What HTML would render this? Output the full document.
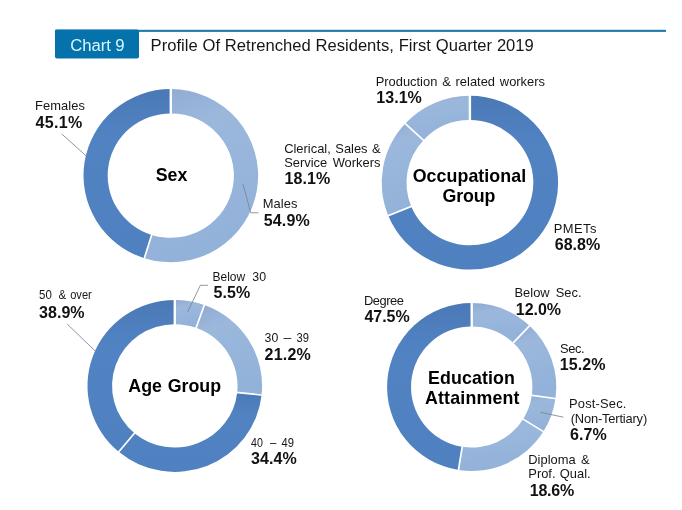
<!DOCTYPE html>
<html><head><meta charset="utf-8"><title>Chart 9</title>
<style>
html,body{margin:0;padding:0;background:#fff;}
body{width:682px;height:510px;overflow:hidden;}
svg{display:block;font-family:"Liberation Sans",Arial,sans-serif;}
text{white-space:pre;}
.n{font-size:12.9px;fill:#161616;}
.b{font-size:16.0px;font-weight:bold;fill:#111;}
.c{font-size:17.8px;font-weight:bold;fill:#000;}
.t{font-size:16.6px;fill:#161616;}
.h{font-size:16.7px;fill:#d9f8ff;}
</style></head><body>
<svg width="682" height="510" viewBox="0 0 682 510">
<defs>
<linearGradient id="gd" x1="0" y1="0" x2="0" y2="1"><stop offset="0" stop-color="#4b79b6"/><stop offset="0.3" stop-color="#5183c3"/><stop offset="1" stop-color="#4f81c1"/></linearGradient>
<linearGradient id="gl" x1="0" y1="0" x2="0.25" y2="1"><stop offset="0" stop-color="#90a9d0"/><stop offset="0.28" stop-color="#9bb7dc"/><stop offset="1" stop-color="#93b2d9"/></linearGradient>
</defs>
<rect width="682" height="510" fill="#fff"/>
<rect x="55" y="29.8" width="611" height="2.1" fill="#1f7ba8"/>
<rect x="55" y="29.5" width="84" height="29" rx="2" fill="#0672ab"/>
<path d="M170.80 89.00A87.3 86.6 0 1 1 144.35 258.13L151.68 234.88A63.1 62.2 0 1 0 170.80 113.40Z" fill="url(#gl)"/>
<path d="M144.35 258.13A87.3 86.6 0 0 1 170.80 89.00L170.80 113.40A63.1 62.2 0 0 0 151.68 234.88Z" fill="url(#gd)"/>
<line x1="170.80" y1="114.90" x2="170.80" y2="87.50" stroke="#fff" stroke-width="2.4"/>
<line x1="152.13" y1="233.45" x2="143.89" y2="259.56" stroke="#fff" stroke-width="1.7"/>
<path d="M469.90 95.80A88.2 86.9 0 1 1 388.31 215.70L411.25 206.47A63.4 62.6 0 1 0 469.90 120.10Z" fill="url(#gd)"/>
<path d="M388.31 215.70A88.2 86.9 0 0 1 405.23 123.61L423.41 140.13A63.4 62.6 0 0 0 411.25 206.47Z" fill="url(#gl)"/>
<path d="M405.23 123.61A88.2 86.9 0 0 1 469.90 95.80L469.90 120.10A63.4 62.6 0 0 0 423.41 140.13Z" fill="url(#gl)"/>
<line x1="469.90" y1="121.60" x2="469.90" y2="94.30" stroke="#fff" stroke-width="2.4"/>
<line x1="412.64" y1="205.90" x2="386.92" y2="216.27" stroke="#fff" stroke-width="1.7"/>
<line x1="424.51" y1="141.15" x2="404.13" y2="122.59" stroke="#fff" stroke-width="1.7"/>
<path d="M174.80 299.90A87.3 86.0 0 0 1 204.37 304.98L196.06 327.85A62.75 61.7 0 0 0 174.80 324.20Z" fill="url(#gl)"/>
<path d="M204.37 304.98A87.3 86.0 0 0 1 261.60 395.07L237.19 392.48A62.75 61.7 0 0 0 196.06 327.85Z" fill="url(#gl)"/>
<path d="M261.60 395.07A87.3 86.0 0 0 1 118.73 451.82L134.50 433.19A62.75 61.7 0 0 0 237.19 392.48Z" fill="url(#gd)"/>
<path d="M118.73 451.82A87.3 86.0 0 0 1 174.80 299.90L174.80 324.20A62.75 61.7 0 0 0 134.50 433.19Z" fill="url(#gd)"/>
<line x1="174.80" y1="325.70" x2="174.80" y2="298.40" stroke="#fff" stroke-width="2.4"/>
<line x1="195.55" y1="329.26" x2="204.88" y2="303.57" stroke="#fff" stroke-width="1.7"/>
<line x1="235.70" y1="392.32" x2="263.09" y2="395.23" stroke="#fff" stroke-width="1.7"/>
<line x1="135.46" y1="432.04" x2="117.77" y2="452.97" stroke="#fff" stroke-width="1.7"/>
<path d="M471.70 303.00A84.6 84.0 0 0 1 529.61 325.77L513.25 342.82A60.7 60.6 0 0 0 471.70 326.40Z" fill="url(#gl)"/>
<path d="M529.61 325.77A84.6 84.0 0 0 1 555.49 398.57L531.82 395.35A60.7 60.6 0 0 0 513.25 342.82Z" fill="url(#gl)"/>
<path d="M555.49 398.57A84.6 84.0 0 0 1 543.41 431.56L523.15 419.15A60.7 60.6 0 0 0 531.82 395.35Z" fill="url(#gl)"/>
<path d="M543.41 431.56A84.6 84.0 0 0 1 458.47 469.97L462.20 446.85A60.7 60.6 0 0 0 523.15 419.15Z" fill="url(#gl)"/>
<path d="M458.47 469.97A84.6 84.0 0 0 1 471.70 303.00L471.70 326.40A60.7 60.6 0 0 0 462.20 446.85Z" fill="url(#gd)"/>
<line x1="471.70" y1="327.90" x2="471.70" y2="301.50" stroke="#fff" stroke-width="2.4"/>
<line x1="512.23" y1="343.92" x2="530.64" y2="324.67" stroke="#fff" stroke-width="1.7"/>
<line x1="530.34" y1="395.14" x2="556.98" y2="398.78" stroke="#fff" stroke-width="1.7"/>
<line x1="521.88" y1="418.35" x2="544.69" y2="432.36" stroke="#fff" stroke-width="1.7"/>
<line x1="462.44" y1="445.37" x2="458.23" y2="471.45" stroke="#fff" stroke-width="1.7"/>
<polyline points="61.8,134 86.3,156" fill="none" stroke="#7d848e" stroke-width="0.85"/>
<polyline points="243,184 250.8,212.8 258.5,212.8" fill="none" stroke="#7d848e" stroke-width="0.85"/>
<polyline points="208,285.3 200.3,285.3 187.6,312" fill="none" stroke="#7d848e" stroke-width="0.85"/>
<polyline points="67.2,324 95,350.8" fill="none" stroke="#7d848e" stroke-width="0.85"/>
<polyline points="540.6,412.4 563.5,417.2" fill="none" stroke="#7d848e" stroke-width="0.85"/>
<text x="70.20" y="50.9" class="h" style="word-spacing:-0.34px;">Chart 9</text>
<text x="150.60" y="50.5" class="t" style="word-spacing:0.23px;">Profile Of Retrenched Residents, First Quarter 2019</text>
<text x="35.00" y="109.6" class="n" style="letter-spacing:0.103px;">Females</text>
<text x="262.80" y="208.2" class="n" style="letter-spacing:0.040px;">Males</text>
<text x="284.20" y="152.5" class="n" style="word-spacing:0.97px;">Clerical, Sales &amp;</text>
<text x="284.20" y="167.3" class="n" style="word-spacing:1.93px;">Service Workers</text>
<text x="375.70" y="85.5" class="n" style="word-spacing:1.25px;">Production &amp; related workers</text>
<text x="553.70" y="232.9" class="n" style="letter-spacing:0.480px;">PMETs</text>
<text x="364.00" y="304.6" class="n" style="letter-spacing:-0.482px;">Degree</text>
<text x="514.50" y="296.6" class="n" style="word-spacing:2.50px;">Below Sec.</text>
<text x="560.00" y="352.7" class="n" style="letter-spacing:-0.371px;">Sec.</text>
<text x="569.00" y="407.6" class="n" style="letter-spacing:0.188px;">Post-Sec.</text>
<text x="570.70" y="422.5" class="n" style="letter-spacing:-0.176px;">(Non-Tertiary)</text>
<text x="528.30" y="464.1" class="n" style="word-spacing:1.84px;">Diploma &amp;</text>
<text x="528.30" y="478.2" class="n" style="word-spacing:0.67px;">Prof. Qual.</text>
<text x="35.60" y="127.5" class="b" style="letter-spacing:0.315px;">45.1%</text>
<text x="263.80" y="225.9" class="b" style="letter-spacing:0.115px;">54.9%</text>
<text x="284.60" y="184.2" class="b" style="letter-spacing:0.065px;">18.1%</text>
<text x="376.30" y="102.5" class="b" style="letter-spacing:0.040px;">13.1%</text>
<text x="554.70" y="250.1" class="b" style="letter-spacing:0.040px;">68.8%</text>
<text x="39.10" y="317.5" class="b" style="letter-spacing:0.015px;">38.9%</text>
<text x="213.40" y="298.4" class="b" style="letter-spacing:0.153px;">5.5%</text>
<text x="264.60" y="359.7" class="b" style="letter-spacing:0.190px;">21.2%</text>
<text x="251.10" y="464.0" class="b" style="letter-spacing:0.065px;">34.4%</text>
<text x="364.40" y="322.2" class="b" style="letter-spacing:-0.010px;">47.5%</text>
<text x="515.80" y="314.9" class="b" style="letter-spacing:-0.035px;">12.0%</text>
<text x="559.80" y="370.3" class="b" style="letter-spacing:0.090px;">15.2%</text>
<text x="570.00" y="440.1" class="b" style="letter-spacing:0.086px;">6.7%</text>
<text x="529.70" y="495.9" class="b" style="letter-spacing:-0.210px;">18.6%</text>
<text x="155.80" y="180.6" class="c" style="letter-spacing:-0.075px;">Sex</text>
<text x="412.70" y="181.6" class="c" style="letter-spacing:0.073px;">Occupational</text>
<text x="442.50" y="201.7" class="c" style="letter-spacing:-0.118px;">Group</text>
<text x="128.30" y="392.4" class="c" style="word-spacing:0.89px;">Age Group</text>
<text x="428.10" y="383.6" class="c" style="letter-spacing:0.089px;">Education</text>
<text x="424.90" y="404.2" class="c" style="letter-spacing:0.196px;">Attainment</text>
<text y="299.4" class="n"><tspan x="39.10" textLength="12.75" lengthAdjust="spacingAndGlyphs">50</tspan> <tspan x="58.40" textLength="7.64" lengthAdjust="spacingAndGlyphs">&amp;</tspan> <tspan x="70.20" textLength="21.59" lengthAdjust="spacingAndGlyphs">over</tspan></text>
<text y="280.5" class="n"><tspan x="212.47" textLength="32.69" lengthAdjust="spacingAndGlyphs">Below</tspan> <tspan x="252.30" textLength="13.76" lengthAdjust="spacingAndGlyphs">30</tspan></text>
<text y="341.5" class="n"><tspan x="264.60" textLength="13.66" lengthAdjust="spacingAndGlyphs">30</tspan> <tspan x="283.50" textLength="7.80" lengthAdjust="spacingAndGlyphs">–</tspan> <tspan x="296.50" textLength="12.45" lengthAdjust="spacingAndGlyphs">39</tspan></text>
<text y="446.7" class="n"><tspan x="251.10" textLength="11.84" lengthAdjust="spacingAndGlyphs">40</tspan> <tspan x="270.10" textLength="6.36" lengthAdjust="spacingAndGlyphs">–</tspan> <tspan x="281.60" textLength="12.45" lengthAdjust="spacingAndGlyphs">49</tspan></text>
</svg>
</body></html>
